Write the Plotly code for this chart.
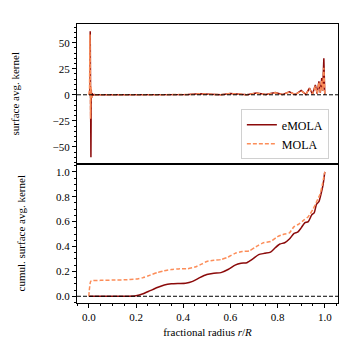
import plotly.graph_objects as go

# kernel (top panel)
r_kern = [0.0, 0.003, 0.005, 0.006, 0.0075, 0.009, 0.0105, 0.012, 0.014, 0.017, 0.022, 0.03,
          0.1, 0.2, 0.25, 0.3, 0.36, 0.42, 0.47, 0.52, 0.56, 0.6, 0.64, 0.67, 0.71, 0.75,
          0.79, 0.82, 0.85, 0.875, 0.9, 0.92, 0.935, 0.948, 0.96, 0.968, 0.975, 0.981,
          0.987, 0.991, 0.996, 1.0]
emola_kern = [0, 0.5, 10, 61, 0, -60, 5, -3, 1.5, -0.5, 0.2, 0,
              0, 0.1, 0.6, 0.8, 0.3, 0.2, 1.0, 0.7, 0.1, 1.3, 0.6, 0.1, 1.6, 0.2,
              2.2, 0.2, 2.8, 0.2, 4.2, 0.3, 6.5, 0.5, 9.5, 1, 13, 2,
              16, 4, 35, 0]
mola_kern = [0, 5, 58, 20, -23, 8, -2, -2.5, -1.5, -0.5, 0.1, 0,
             0, 0.1, 0.5, 0.7, 0.3, 0.2, 0.9, 0.6, 0.1, 1.2, 0.5, 0.1, 1.5, 0.2,
             2.0, 0.2, 2.6, 0.2, 3.8, 0.3, 6.0, 0.5, 8.5, 1, 12, 2,
             14, 4, 26, 0]

# cumulative kernel (bottom panel)
r_emola = [0, 0.05, 0.1, 0.15, 0.2, 0.23, 0.26, 0.29, 0.32, 0.35, 0.38, 0.41, 0.44, 0.47,
           0.5, 0.53, 0.56, 0.59, 0.62, 0.645, 0.67, 0.695, 0.72, 0.745, 0.77, 0.79, 0.81,
           0.83, 0.85, 0.87, 0.885, 0.9, 0.915, 0.93, 0.945, 0.955, 0.965, 0.975, 0.985,
           0.993, 1.0]
emola_cum = [0, 0, 0, 0, 0.005, 0.02, 0.045, 0.07, 0.09, 0.1, 0.103, 0.105, 0.12, 0.15,
             0.175, 0.185, 0.19, 0.215, 0.25, 0.265, 0.27, 0.3, 0.335, 0.345, 0.355, 0.39,
             0.42, 0.43, 0.46, 0.505, 0.515, 0.55, 0.59, 0.6, 0.655, 0.67, 0.74, 0.76,
             0.83, 0.9, 1.0]
r_mola = [0, 0.008, 0.015, 0.05, 0.1, 0.15, 0.2, 0.23, 0.26, 0.29, 0.32, 0.35, 0.38,
          0.42, 0.45, 0.48, 0.5, 0.53, 0.56, 0.59, 0.62, 0.65, 0.68, 0.71, 0.74, 0.77,
          0.8, 0.83, 0.85, 0.87, 0.89, 0.91, 0.93, 0.95, 0.97, 0.98, 0.99, 1.0]
mola_cum = [0, 0.12, 0.125, 0.128, 0.13, 0.132, 0.138, 0.15, 0.17, 0.19, 0.205, 0.215,
            0.22, 0.222, 0.235, 0.26, 0.28, 0.29, 0.295, 0.315, 0.345, 0.36, 0.365, 0.4,
            0.43, 0.44, 0.48, 0.5, 0.51, 0.56, 0.58, 0.61, 0.64, 0.7, 0.78, 0.82, 0.9, 1.0]

dark = "#8b0a0a"
light = "#fc8d59"
font = "Liberation Serif"
dash = "4px,2px"

fig = go.Figure()
fig.add_trace(go.Scatter(x=r_kern, y=emola_kern, mode="lines", name="eMOLA",
                         line=dict(color=dark, width=1.5), xaxis="x", yaxis="y"))
fig.add_trace(go.Scatter(x=r_kern, y=mola_kern, mode="lines", name="MOLA",
                         line=dict(color=light, width=1.5, dash=dash), xaxis="x", yaxis="y"))
fig.add_trace(go.Scatter(x=r_emola, y=emola_cum, mode="lines", showlegend=False,
                         line=dict(color=dark, width=1.5, shape="spline", smoothing=0.6),
                         xaxis="x2", yaxis="y2"))
fig.add_trace(go.Scatter(x=r_mola, y=mola_cum, mode="lines", showlegend=False,
                         line=dict(color=light, width=1.5, dash=dash, shape="spline", smoothing=0.6),
                         xaxis="x2", yaxis="y2"))

# dashed zero lines
for yr in ["y", "y2"]:
    fig.add_shape(type="line", xref="paper", yref=yr, x0=0, x1=1, y0=0, y1=0,
                  line=dict(color="black", width=1, dash=dash))

ax = dict(showline=True, linecolor="black", linewidth=1.2, mirror=True, automargin=False,
          showgrid=False, zeroline=False, ticks="outside", ticklen=4, tickcolor="black",
          tickfont=dict(family=font, size=11, color="black"))
tfont = dict(family=font, size=11, color="black")

fig.update_layout(
    width=347, height=347,
    margin=dict(l=69, r=17, t=16, b=52),
    paper_bgcolor="white", plot_bgcolor="white",
    font=dict(family=font, size=11, color="black"),
    xaxis=dict(ax, domain=[0, 1], anchor="y", matches="x2", showticklabels=False, ticks="",
               range=[-0.05, 1.056]),
    yaxis=dict(ax, domain=[0.5, 1], anchor="x", range=[-66, 68], tickvals=[-50, -25, 0, 25, 50],
               minor=dict(dtick=5, ticklen=2, ticks="outside", tickcolor="black"),
               title=dict(text="surface avg. kernel", font=tfont, standoff=30)),
    xaxis2=dict(ax, domain=[0, 1], anchor="y2", range=[-0.05, 1.056], dtick=0.2, tickformat=".1f",
                minor=dict(dtick=0.05, ticklen=2, ticks="outside", tickcolor="black"),
                title=dict(text="fractional radius <i>r</i>/<i>R</i>", font=tfont, standoff=6)),
    yaxis2=dict(ax, domain=[0, 0.5], anchor="x2", range=[-0.054, 1.067], dtick=0.2, tickformat=".1f",
                minor=dict(dtick=0.05, ticklen=2, ticks="outside", tickcolor="black"),
                title=dict(text="cumul. surface avg. kernel", font=tfont, standoff=28)),
    legend=dict(x=0.965, y=0.515, xanchor="right", yanchor="bottom",
                bgcolor="rgba(255,255,255,0.9)", bordercolor="#d0d0d0", borderwidth=1,
                font=dict(family=font, size=12, color="black"), tracegroupgap=0),
)

fig.write_html("out.html")
